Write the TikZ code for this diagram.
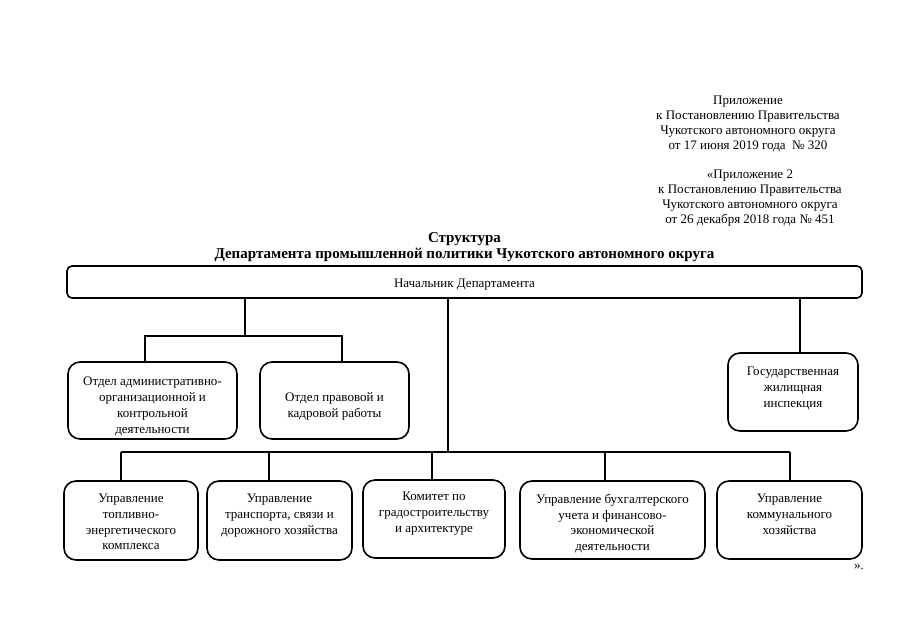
\documentclass[tikz,border=0pt]{standalone}
\usepackage{fontspec}
\setmainfont{Liberation Serif}
\usepackage{tikz}
\usetikzlibrary{positioning}
\tikzstyle{chief} = [rectangle, rounded corners=5pt, minimum width=795pt, minimum height=32pt, text centered, draw=black, line width=1.6pt]
\tikzstyle{unit} = [rectangle, rounded corners=12pt, inner sep=0pt, draw=black, line width=1.6pt, font=\fontsize{13}{15.8}\selectfont]
\tikzstyle{caption} = [align=center]
\tikzstyle{link} = [line width=1.3pt]
\tikzstyle{trunk} = [line width=2pt]
\newcommand{\unittext}[4]{\parbox[c][#1][t]{#2}{\centering\vskip#3\relax #4}}

\begin{document}
\begin{tikzpicture}[x=1pt,y=-1pt,every node/.style={font=\fontsize{13}{15}\selectfont}]
	\useasboundingbox (0,0) rectangle (905,640);
	\node (annex)[caption] at (748,123.5){Приложение\\к Постановлению Правительства\\Чукотского автономного округа\\от 17 июня 2019 года~~№ 320};
	\node (annexold)[caption] at (750,198){«Приложение 2\\к Постановлению Правительства\\Чукотского автономного округа\\от 26 декабря 2018 года № 451};
	\node (chief)[chief] at (464.5,282){\raisebox{-3pt}[\height][\depth]{Начальник Департамента}};
	\node (title)[caption, above=0pt of chief, font=\fontsize{15}{16}\selectfont\bfseries]{Структура\\Департамента промышленной политики Чукотского автономного округа};
	\node (otdadm)[unit] at (152.5,400.5){\unittext{77pt}{169pt}{15pt}{Отдел административно-\\организационной и\\контрольной\\деятельности}};
	\node (otdlaw)[unit] at (334.5,400.5){\unittext{77pt}{149pt}{31pt}{Отдел правовой и\\кадровой работы}};
	\node (gzhi)[unit] at (793,392){\unittext{78pt}{130pt}{14pt}{Государственная\\жилищная\\инспекция}};
	\node (fuel)[unit] at (131,520.5){\unittext{79pt}{134pt}{13pt}{Управление\\топливно-\\энергетического\\комплекса}};
	\node (transport)[unit] at (279.5,520.5){\unittext{79pt}{145pt}{13pt}{Управление\\транспорта, связи и\\дорожного хозяйства}};
	\node (arch)[unit] at (434,519){\unittext{78pt}{142pt}{12pt}{Комитет по\\градостроительству\\и архитектуре}};
	\node (account)[unit] at (612.5,520){\unittext{78pt}{185pt}{13pt}{Управление бухгалтерского\\учета и финансово-\\экономической\\деятельности}};
	\node (communal)[unit] at (789.5,520){\unittext{78pt}{145pt}{13pt}{Управление\\коммунального\\хозяйства}};
	\node (close) at (859,567){».};
	\coordinate (jup) at (245,336);
	\coordinate (jadm) at (145,336);
	\coordinate (jlaw) at (342,336);
	\coordinate (jgzhi) at (800,353);
	\coordinate (bus) at (448,452);
	\coordinate (jfuel) at (121,452);
	\coordinate (jtransport) at (269,452);
	\coordinate (jarch) at (432,452);
	\coordinate (jaccount) at (605,452);
	\coordinate (jcommunal) at (790,452);
	\draw [link] (chief.south -| jup) -- (jup);
	\draw [link] (otdadm.north -| jadm) -- (jadm) -- (jlaw) -- (otdlaw.north -| jlaw);
	\draw [link] (chief.south -| jgzhi) -- (gzhi.north -| jgzhi);
	\draw [trunk] (chief.south -| bus) -- (bus);
	\draw [link] (jfuel) -- (jcommunal);
	\draw [link] (jfuel) -- (fuel.north -| jfuel);
	\draw [link] (jtransport) -- (transport.north -| jtransport);
	\draw [link] (jarch) -- (arch.north -| jarch);
	\draw [link] (jaccount) -- (account.north -| jaccount);
	\draw [link] (jcommunal) -- (communal.north -| jcommunal);
\end{tikzpicture}
\end{document}
